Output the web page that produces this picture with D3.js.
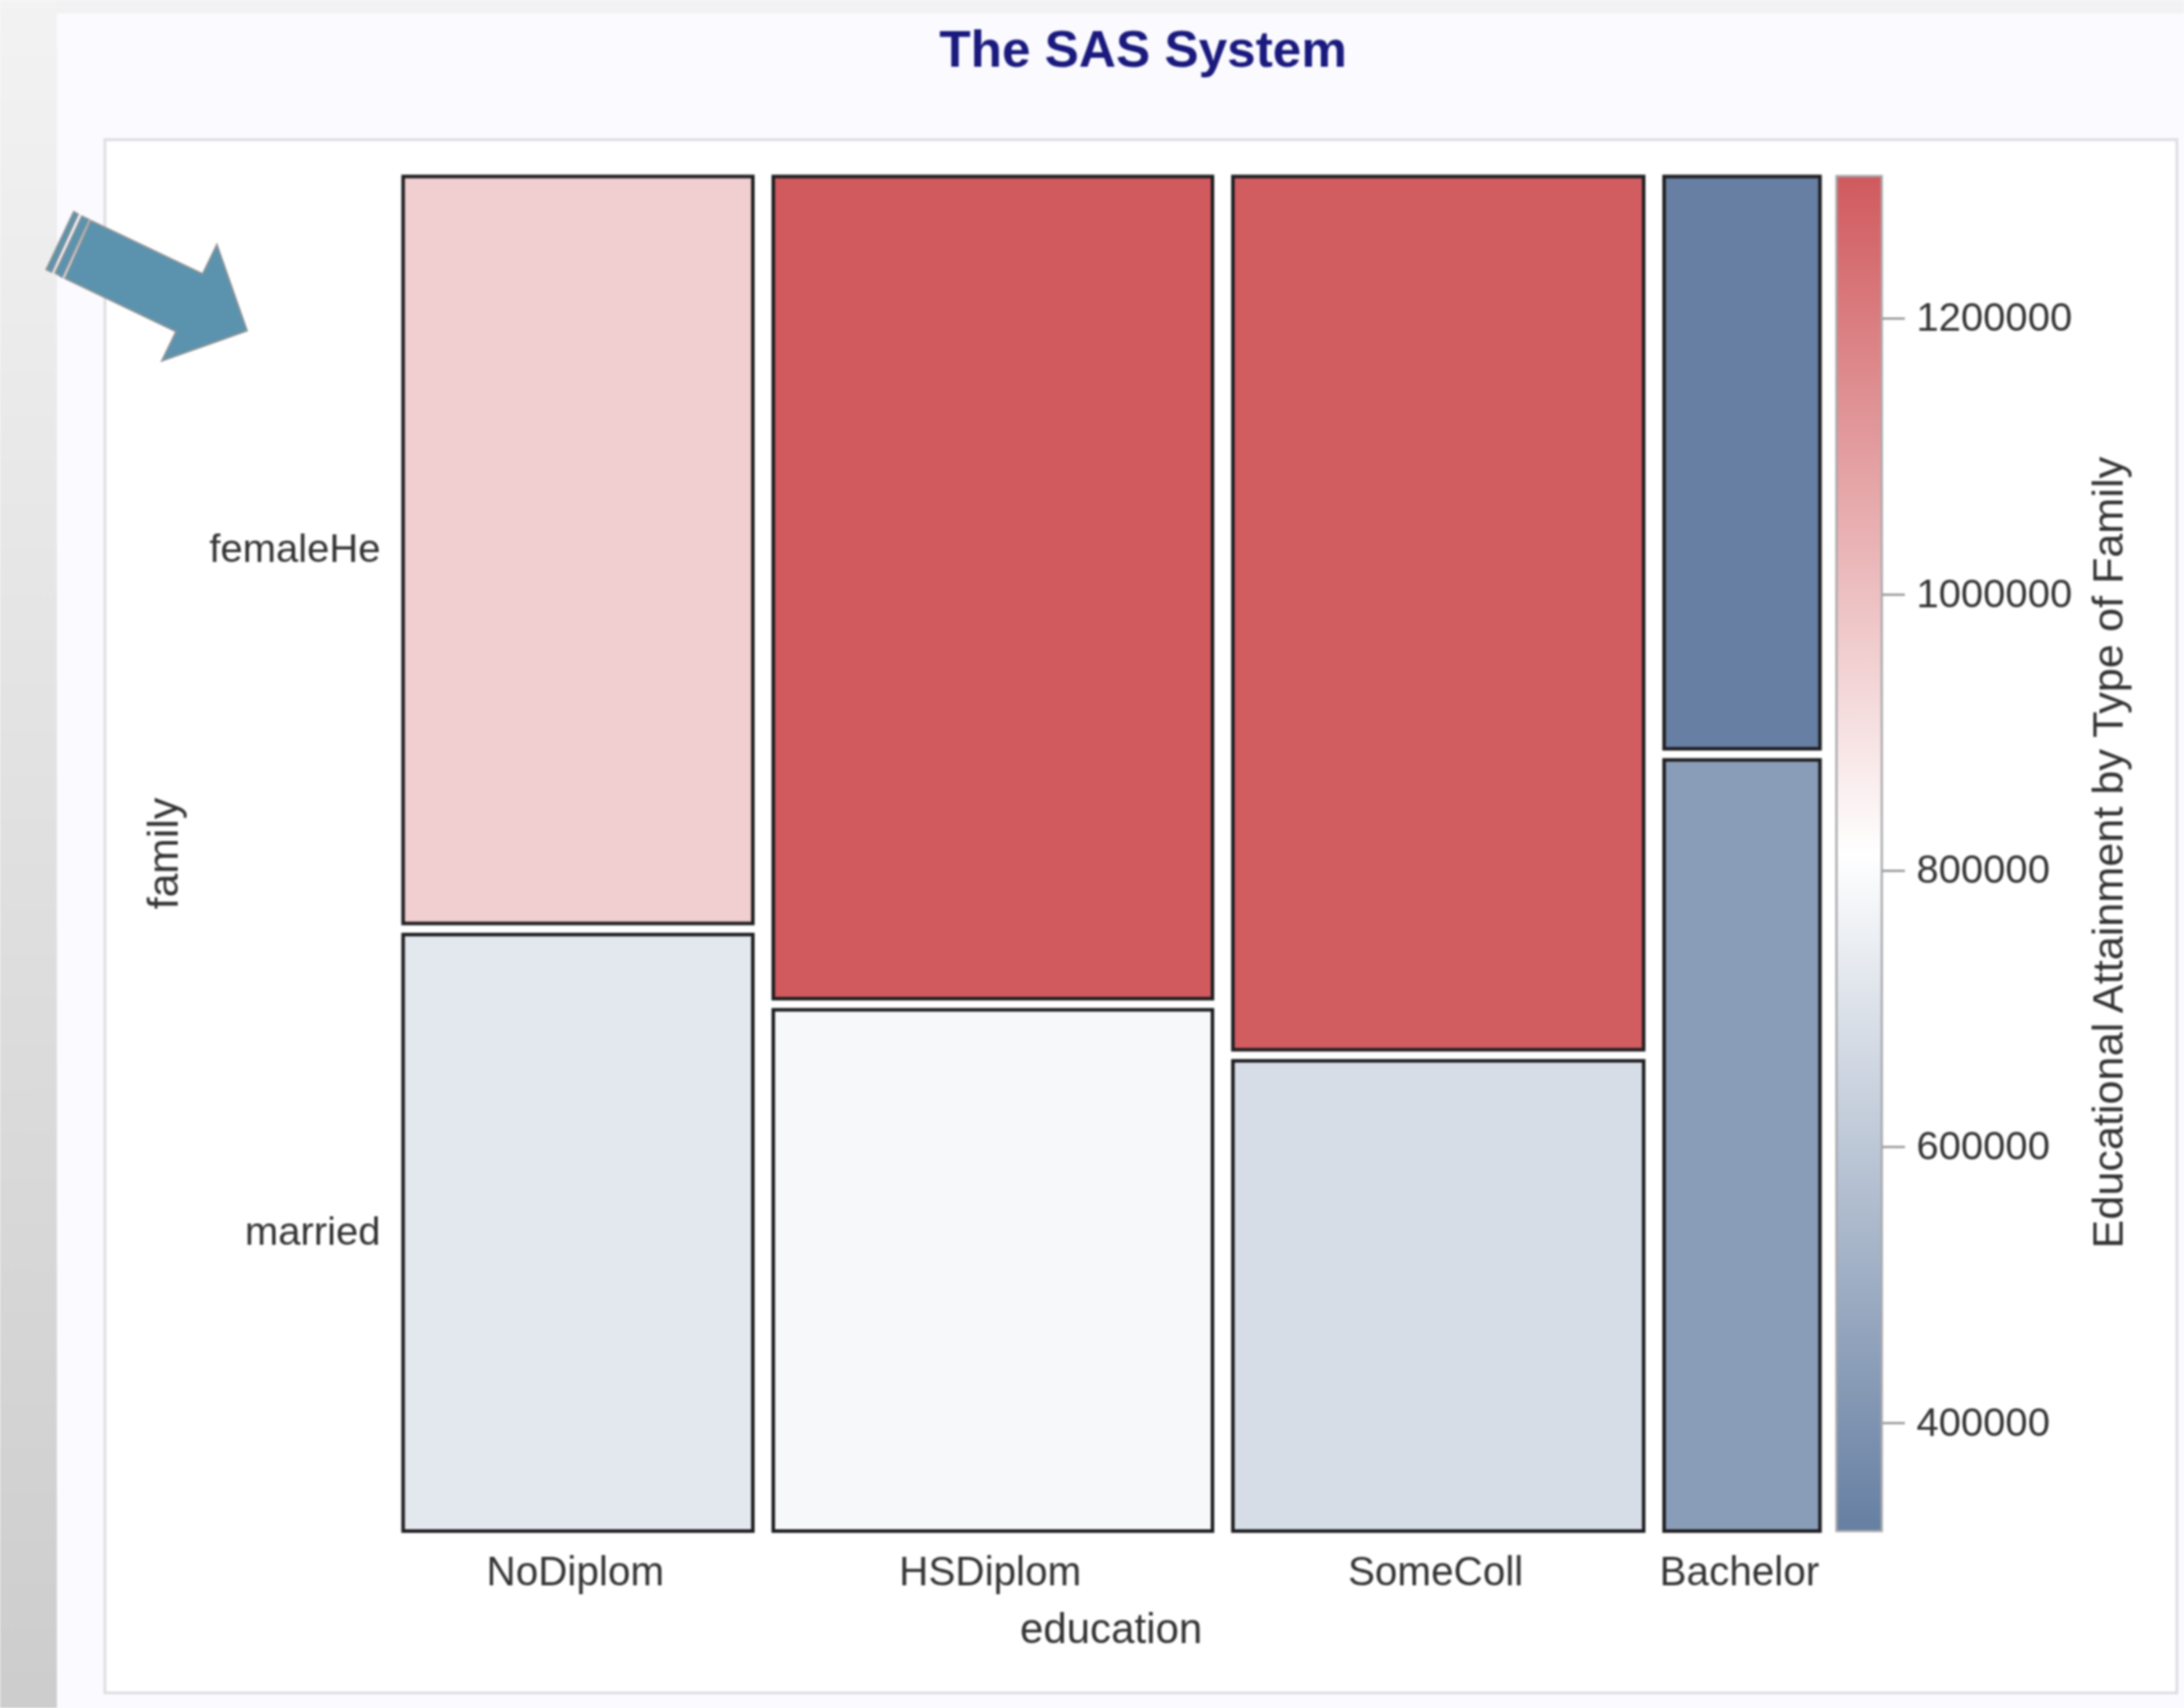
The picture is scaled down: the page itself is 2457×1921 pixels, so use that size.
<!DOCTYPE html>
<html>
<head>
<meta charset="utf-8">
<script src="https://cdn.jsdelivr.net/npm/d3@7"></script>
<style>
html,body{margin:0;padding:0;background:#fafaff;overflow:hidden}
svg{display:block;filter:blur(0.9px)}
text{font-family:"Liberation Sans",Arial,sans-serif;fill:#333}
</style>
</head>
<body>
<svg id="chart" width="2457" height="1921"></svg>
<script>
// ---- data ----
const education = ["NoDiplom", "HSDiplom", "SomeColl", "Bachelor"];
const family = ["femaleHe", "married"];
const educationShare = [25.8, 32.4, 30.3, 11.5];      // column width, % of all
const femaleShare = [55.6, 61.2, 65.0, 42.6];         // femaleHe height, % of column
const femaleValues = [958000, 1302000, 1295000, 322000];
const marriedValues = [722000, 787000, 681000, 437000];
const colorTicks = [400000, 600000, 800000, 1000000, 1200000];
const colorDomain = [321500, 812200, 1302900];
const rampColors = ["#667FA2", "#FFFFFF", "#D05A5E"];
const titleText = "The SAS System";
const xTitle = "education";
const yTitle = "family";
const colorTitle = "Educational Attainment by Type of Family";
const arrowBody = [[102,248],[228,308],[244,275],[278,372],[182,406],[198,373],[73,313]];
const arrowStripes = [
  [[92,243],[100,247],[70,312],[62,307]],
  [[83,238],[88,241],[58,306],[52,303]]
];

// ---- layout ----
const W = 2457, H = 1921;
const plot = {left: 453.5, right: 2047.5, top: 198.5, bottom: 1722};
const gapX = 23, gapY = 12.5;
const bar = {left: 2066, right: 2117, top: 198, bottom: 1722};
const fontStack = '"Liberation Sans",Arial,sans-serif';

const svg = d3.select("#chart");
const defs = svg.append("defs");

// page background
const bgGrad = defs.append("linearGradient").attr("id","sideGrad")
  .attr("x1",0).attr("y1",0).attr("x2",0).attr("y2",1);
bgGrad.append("stop").attr("offset","0%").attr("stop-color","#f3f3f3");
bgGrad.append("stop").attr("offset","100%").attr("stop-color","#cdcdcd");
svg.append("rect").attr("width",64).attr("height",H).attr("fill","url(#sideGrad)");
svg.append("rect").attr("x",64).attr("width",W-64).attr("height",15).attr("fill","#f2f2f2");
svg.append("rect").attr("x",64).attr("y",15).attr("width",W-64).attr("height",H-15).attr("fill","#fafaff");
svg.append("rect").attr("x",118).attr("y",157).attr("width",2331).attr("height",1747)
  .attr("fill","#ffffff").attr("stroke","#dcdce2").attr("stroke-width",3);

// scales
const x = d3.scaleLinear().domain([0, d3.sum(educationShare)])
  .range([plot.left, plot.right - gapX*(education.length-1)]);
const y = d3.scaleLinear().domain([0, 100]).range([plot.top, plot.bottom - gapY]);
const color = d3.scaleLinear().domain(colorDomain).range(rampColors);
const cbY = d3.scaleLinear().domain([colorDomain[0], colorDomain[2]]).range([bar.bottom, bar.top]);

// mosaic cells
const starts = d3.cumsum([0].concat(educationShare)).slice(0, education.length);
const cells = education.flatMap((e,i) => [
  {col:i, from:0, to:femaleShare[i], gap:0, value:femaleValues[i]},
  {col:i, from:femaleShare[i], to:100, gap:gapY, value:marriedValues[i]}
]);
svg.append("g").selectAll("rect").data(cells).join("rect")
  .attr("x", d => x(starts[d.col]) + d.col*gapX)
  .attr("width", d => x(starts[d.col]+educationShare[d.col]) - x(starts[d.col]))
  .attr("y", d => y(d.from) + d.gap)
  .attr("height", d => y(d.to) - y(d.from))
  .attr("fill", d => color(d.value))
  .attr("stroke", "#1f1f22").attr("stroke-width", 4);

// x axis labels, one at each column centre
const xCenters = education.map((e,i) => starts[i] + educationShare[i]/2);
const xAxisG = svg.append("g").attr("transform","translate(-3,1723)")
  .call(d3.axisBottom(x).tickValues(xCenters).tickSize(0).tickPadding(0)
    .tickFormat((d,i) => education[i]));
xAxisG.select(".domain").remove();
xAxisG.selectAll(".tick").attr("transform", (d,i) =>
  `translate(${x(d) + i*gapX},0)`);
xAxisG.selectAll("text").attr("y",60).attr("dy",0)
  .style("font-size","45.5px").style("font-family",fontStack).style("fill","#333");

// y axis labels, at the centres of the first column
const yCenters = [femaleShare[0]/2, femaleShare[0] + (100-femaleShare[0])/2];
const yAxisG = svg.append("g").attr("transform","translate(428,-1)")
  .call(d3.axisLeft(y).tickValues(yCenters).tickSize(0).tickPadding(0)
    .tickFormat((d,i) => family[i]));
yAxisG.select(".domain").remove();
yAxisG.selectAll(".tick").attr("transform", (d,i) =>
  `translate(0,${y(d) + i*gapY})`);
yAxisG.selectAll("text").attr("x",0).attr("dy","0.32em")
  .style("font-size","45px").style("font-family",fontStack).style("fill","#333");

// colour bar
const grad = defs.append("linearGradient").attr("id","ramp")
  .attr("x1",0).attr("y1",1).attr("x2",0).attr("y2",0);
colorDomain.forEach((v,i) => grad.append("stop")
  .attr("offset", (v-colorDomain[0])/(colorDomain[2]-colorDomain[0]))
  .attr("stop-color", rampColors[i]));
svg.append("rect")
  .attr("x",bar.left).attr("y",cbY.range()[1])
  .attr("width",bar.right-bar.left).attr("height",cbY.range()[0]-cbY.range()[1])
  .attr("fill","url(#ramp)").attr("stroke","#a8a8ac").attr("stroke-width",2.5);

const cbAxis = svg.append("g").attr("transform",`translate(${bar.right+1},0)`)
  .call(d3.axisRight(cbY).tickValues(colorTicks).tickSize(25).tickPadding(13)
    .tickFormat(d3.format("d")));
cbAxis.select(".domain").remove();
cbAxis.selectAll("line").attr("stroke","#969696").attr("stroke-width",2.5);
cbAxis.selectAll("text").attr("dy","0.31em")
  .style("font-size","45px").style("font-family",fontStack).style("fill","#333");

// titles
svg.append("text").attr("x",1286).attr("y",75).attr("text-anchor","middle")
  .style("font-size","57.7px").style("font-weight","bold").style("fill","#1a1a7e").text(titleText);
svg.append("text").attr("x",1250).attr("y",1848).attr("text-anchor","middle")
  .style("font-size","47.3px").text(xTitle);
svg.append("text").attr("transform","translate(200,960) rotate(-90)").attr("text-anchor","middle")
  .style("font-size","48px").text(yTitle);
svg.append("text").attr("transform","translate(2388,959) rotate(-90)").attr("text-anchor","middle")
  .style("font-size","48.6px").text(colorTitle);

// callout arrow
const line = d3.line().curve(d3.curveLinearClosed);
const arrow = svg.append("g").attr("fill","#5b93ae").attr("stroke","#8f9396").attr("stroke-width",1.8);
arrow.append("path").attr("d", line(arrowBody));
arrowStripes.forEach(s => arrow.append("path").attr("d", line(s)));
</script>
</body>
</html>
